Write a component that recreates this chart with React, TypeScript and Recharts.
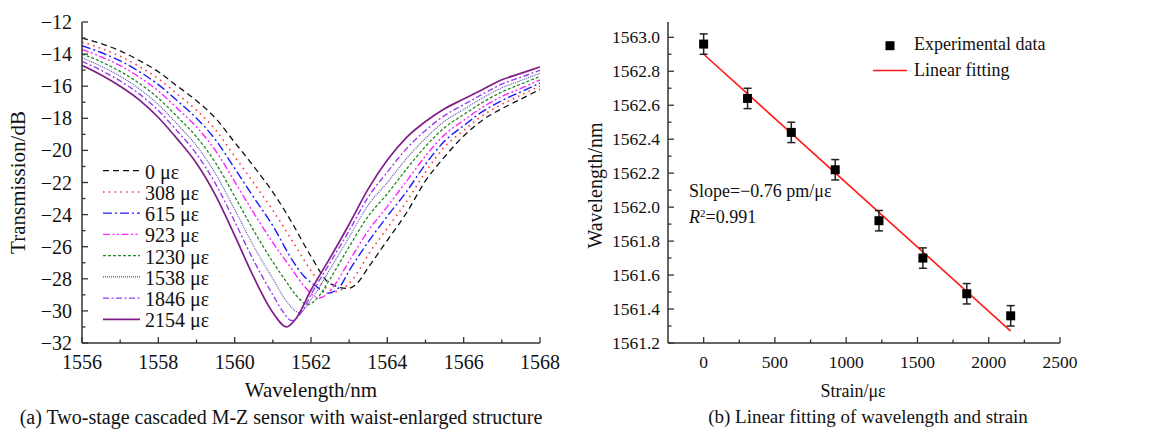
import React from 'react'
import { LineChart, Line, XAxis, YAxis, Legend, ComposedChart, Scatter, ErrorBar } from 'recharts'

const FONT = '"Liberation Serif", "Times New Roman", serif'
const AXIS = '#333'

// (a) transmission spectra, [wavelength nm, transmission dB]
const spec0 = [[1556,-13.0],[1556.5,-13.35],[1557,-13.8],[1557.5,-14.4],[1558,-15.1],[1558.5,-16.0],[1559,-16.9],[1559.5,-18.0],[1560,-19.5],[1560.5,-21.0],[1561,-22.6],[1561.5,-24.5],[1562,-26.6],[1562.5,-28.3],[1562.96,-28.6],[1563.2,-28.3],[1563.5,-27.3],[1564,-25.6],[1564.5,-23.9],[1565,-21.9],[1565.5,-20.4],[1566,-19.1],[1566.5,-18.1],[1567,-17.4],[1567.5,-16.8],[1568,-16.2]]
const spec308 = [[1556,-13.26],[1556.5,-13.64],[1557,-14.13],[1557.5,-14.77],[1558,-15.53],[1558.5,-16.5],[1559,-17.49],[1559.5,-18.72],[1560,-20.37],[1560.5,-22.04],[1561,-23.73],[1561.5,-25.6],[1562,-27.5],[1562.3,-28.4],[1562.64,-28.8],[1562.95,-28.4],[1563.25,-27.5],[1563.5,-26.5],[1564,-24.85],[1564.5,-23.2],[1565,-21.35],[1565.5,-19.78],[1566,-18.76],[1566.5,-17.82],[1567,-17.13],[1567.5,-16.56],[1568,-15.99]]
const spec615 = [[1556,-13.48],[1556.5,-13.9],[1557,-14.42],[1557.5,-15.09],[1558,-15.9],[1558.5,-16.92],[1559,-17.99],[1559.5,-19.34],[1560,-21.12],[1560.5,-22.93],[1561,-24.7],[1561.5,-26.8],[1561.8,-27.8],[1562.1,-28.4],[1562.44,-28.9],[1562.75,-28.5],[1563,-27.5],[1563.5,-25.7],[1564,-24.1],[1564.5,-22.58],[1565,-20.86],[1565.5,-19.42],[1566,-18.46],[1566.5,-17.57],[1567,-16.9],[1567.5,-16.35],[1568,-15.81]]
const spec923 = [[1556,-13.71],[1556.5,-14.17],[1557,-14.72],[1557.5,-15.43],[1558,-16.3],[1558.5,-17.39],[1559,-18.54],[1559.5,-20.02],[1560,-21.94],[1560.5,-23.9],[1561,-25.75],[1561.5,-27.4],[1561.8,-28.4],[1562.22,-29.2],[1562.55,-28.6],[1563,-26.9],[1563.5,-25.0],[1564,-23.5],[1564.5,-21.93],[1565,-20.35],[1565.5,-19.02],[1566,-18.13],[1566.5,-17.3],[1567,-16.64],[1567.5,-16.13],[1568,-15.61]]
const spec1230 = [[1556,-13.99],[1556.5,-14.48],[1557,-15.08],[1557.5,-15.82],[1558,-16.75],[1558.5,-17.91],[1559,-19.16],[1559.5,-20.78],[1560,-22.86],[1560.5,-25.0],[1561,-26.95],[1561.3,-28.0],[1561.6,-29.0],[1561.92,-29.6],[1562.2,-29.1],[1562.5,-28.0],[1563,-26.0],[1563.5,-24.1],[1564,-22.7],[1564.5,-21.17],[1565,-19.75],[1565.5,-18.58],[1566,-17.77],[1566.5,-17.0],[1567,-16.36],[1567.5,-15.87],[1568,-15.39]]
const spec1538 = [[1556,-14.22],[1556.5,-14.75],[1557,-15.38],[1557.5,-16.16],[1558,-17.15],[1558.5,-18.38],[1559,-19.71],[1559.5,-21.46],[1560,-23.68],[1560.5,-25.97],[1561,-28.0],[1561.3,-29.2],[1561.7,-30.1],[1562,-29.3],[1562.5,-27.4],[1563,-25.4],[1563.5,-23.4],[1564,-22.0],[1564.5,-20.52],[1565,-19.24],[1565.5,-18.18],[1566,-17.44],[1566.5,-16.73],[1567,-16.1],[1567.5,-15.65],[1568,-15.19]]
const spec1846 = [[1556,-14.45],[1556.5,-15.01],[1557,-15.67],[1557.5,-16.48],[1558,-17.52],[1558.5,-18.81],[1559,-20.22],[1559.5,-22.08],[1560,-24.43],[1560.5,-26.87],[1561,-29.0],[1561.25,-30.0],[1561.49,-30.6],[1561.8,-29.9],[1562,-29.0],[1562.5,-27.0],[1563,-25.0],[1563.5,-22.9],[1564,-21.35],[1564.5,-19.9],[1565,-18.76],[1565.5,-17.82],[1566,-17.15],[1566.5,-16.49],[1567,-15.87],[1567.5,-15.44],[1568,-15.01]]
const spec2154 = [[1556,-14.7],[1556.5,-15.3],[1557,-16.0],[1557.5,-16.85],[1558,-17.95],[1558.5,-19.3],[1559,-20.8],[1559.5,-22.8],[1560,-25.3],[1560.5,-27.9],[1561,-30.1],[1561.36,-31.0],[1561.6,-30.5],[1562,-28.7],[1562.5,-26.7],[1563,-24.6],[1563.5,-22.4],[1564,-20.6],[1564.5,-19.2],[1565,-18.2],[1565.5,-17.4],[1566,-16.8],[1566.5,-16.2],[1567,-15.6],[1567.5,-15.2],[1568,-14.8]]

const strainNames = ['0 με', '308 με', '615 με', '923 με', '1230 με', '1538 με', '1846 με', '2154 με']
const specXTicks = [1556, 1557, 1558, 1559, 1560, 1561, 1562, 1563, 1564, 1565, 1566, 1567, 1568]
const specYTicks = [-32, -31, -30, -29, -28, -27, -26, -25, -24, -23, -22, -21, -20, -19, -18, -17, -16, -15, -14, -13, -12]

// (b) dip wavelength vs strain
const strain = [0, 308, 615, 923, 1230, 1538, 1846, 2154]
const dipWavelength = [1562.96, 1562.64, 1562.44, 1562.22, 1561.92, 1561.70, 1561.49, 1561.36]
const dipError = [0.06, 0.06, 0.06, 0.06, 0.06, 0.06, 0.06, 0.06]
const fitStrain = [0, 2154]
const fitWavelength = [1562.9, 1561.27]
const fitXTicks = [0, 250, 500, 750, 1000, 1250, 1500, 1750, 2000, 2250, 2500]
const fitYTicks = [1561.2, 1561.3, 1561.4, 1561.5, 1561.6, 1561.7, 1561.8, 1561.9, 1562.0, 1562.1, 1562.2, 1562.3, 1562.4, 1562.5, 1562.6, 1562.7, 1562.8, 1562.9, 1563.0]

const specStyles = [
  { color: '#111111', dash: '6 4', width: 1.3 },
  { color: '#ff3a3a', dash: '1.6 4.2', width: 1.6 },
  { color: '#1a1aff', dash: '9 3 2 3', width: 1.4 },
  { color: '#ff22ff', dash: '7 2.5 2 2.5 2 2.5', width: 1.4 },
  { color: '#1f8a1f', dash: '3 2', width: 1.3 },
  { color: '#4a4aa8', dash: '1 1', width: 1.1 },
  { color: '#9b3cf0', dash: '6 2.5 2 2.5', width: 1.4 },
  { color: '#7f1f86', dash: undefined, width: 1.7 },
]

const specSeries = [spec0, spec308, spec615, spec923, spec1230, spec1538, spec1846, spec2154].map((pts, i) => ({
  name: strainNames[i],
  data: pts.map(([x, y]) => ({ x, y })),
  ...specStyles[i],
}))

const points = strain.map((x, i) => ({ x, y: dipWavelength[i], err: dipError[i] }))
const fitLine = fitStrain.map((x, i) => ({ x, y: fitWavelength[i] }))

const minus = (v: number) => (v < 0 ? `\u2212${Math.abs(v)}` : `${v}`)

// tick renderer that draws inward tick marks (major + minor) and labels only on majors
const makeTick = (side: 'left' | 'bottom', gap: number, fontSize: number, isMajor: (v: number) => boolean, fmt: (v: number) => string) =>
  (props: any) => {
    const { x, y, payload } = props
    const v = payload.value
    const major = isMajor(v)
    const len = major ? 6 : 3.5
    const txt = { fontFamily: FONT, fontSize, fill: '#111' }
    if (side === 'left') {
      const ax = x + gap
      return (
        <g>
          <line x1={ax} x2={ax + len} y1={y} y2={y} stroke={AXIS} strokeWidth={1.3} />
          {major && (
            <text x={x} y={y} dy="0.35em" textAnchor="end" style={txt}>
              {fmt(v)}
            </text>
          )}
        </g>
      )
    }
    const ay = y - gap
    return (
      <g>
        <line x1={x} x2={x} y1={ay} y2={ay - len} stroke={AXIS} strokeWidth={1.3} />
        {major && (
          <text x={x} y={y} dy="0.75em" textAnchor="middle" style={txt}>
            {fmt(v)}
          </text>
        )}
      </g>
    )
  }

const SpecLegend = () => (
  <svg width={150} height={180} style={{ display: 'block' }}>
    {specSeries.map((s, i) => {
      const cy = 20.7 + i * 21.23
      return (
        <g key={s.name}>
          <line x1={3} x2={40} y1={cy} y2={cy} stroke={s.color} strokeWidth={s.width} strokeDasharray={s.dash} />
          <text x={45} y={cy + 8} style={{ fontFamily: FONT, fontSize: 20, fill: '#111' }}>{s.name}</text>
        </g>
      )
    })}
  </svg>
)

const FitLegend = () => (
  <svg width={200} height={60} style={{ display: 'block' }}>
    <rect x={25.5} y={11.2} width={9} height={9} fill="#000" />
    <text x={54} y={19.5} style={{ fontFamily: FONT, fontSize: 18, fill: '#111' }}>Experimental data</text>
    <line x1={13} x2={47} y1={40.5} y2={40.5} stroke="#ff1a1a" strokeWidth={1.6} />
    <text x={54} y={45.5} style={{ fontFamily: FONT, fontSize: 18, fill: '#111' }}>Linear fitting</text>
  </svg>
)

const SquareDot = (props: any) => {
  const { cx, cy } = props
  return <rect x={cx - 4.5} y={cy - 4.5} width={9} height={9} fill="#000" />
}

const labelStyle = (size: number) => ({ fontFamily: FONT, fontSize: size, fill: '#111', textAnchor: 'middle' as const })

export default function App() {
  return (
    <div style={{ position: 'absolute', left: 0, top: 0, width: 1172, height: 432, background: '#fff', fontFamily: FONT }}>
      <div style={{ position: 'absolute', left: 0, top: 0 }}>
        <LineChart width={560} height={432} margin={{ top: 22, right: 20, bottom: 29, left: 0 }}>
          <XAxis
            dataKey="x"
            type="number"
            domain={[1556, 1568]}
            ticks={specXTicks}
            interval={0}
            allowDataOverflow
            height={60}
            tickSize={0}
            tickMargin={11}
            tickLine={false}
            axisLine={{ stroke: AXIS, strokeWidth: 1.5 }}
            tick={makeTick('bottom', 11, 20, (v) => v % 2 === 0, (v) => `${v}`)}
            label={{ value: 'Wavelength/nm', position: 'insideBottom', offset: 6, style: labelStyle(21) }}
          />
          <XAxis xAxisId="top" orientation="top" type="number" domain={[1556, 1568]} height={0} tick={false} tickLine={false} axisLine={{ stroke: AXIS, strokeWidth: 1.5 }} />
          <YAxis
            type="number"
            domain={[-32, -12]}
            ticks={specYTicks}
            interval={0}
            allowDataOverflow
            width={82}
            tickSize={0}
            tickMargin={10}
            tickLine={false}
            axisLine={{ stroke: AXIS, strokeWidth: 1.5 }}
            tick={makeTick('left', 10, 20, (v) => v % 2 === 0, minus)}
            label={{ value: 'Transmission/dB', angle: -90, position: 'insideLeft', offset: 18, style: labelStyle(21) }}
          />
          <YAxis yAxisId="right" orientation="right" type="number" domain={[-32, -12]} width={0} tick={false} tickLine={false} axisLine={{ stroke: AXIS, strokeWidth: 1.5 }} />
          {specSeries.map((s) => (
            <Line
              key={s.name}
              data={s.data}
              dataKey="y"
              name={s.name}
              type="monotone"
              stroke={s.color}
              strokeWidth={s.width}
              strokeDasharray={s.dash}
              dot={false}
              isAnimationActive={false}
            />
          ))}
          <Legend layout="vertical" align="center" verticalAlign="middle" wrapperStyle={{ left: 100, top: 150, width: 150 }} content={() => <SpecLegend />} />
        </LineChart>
      </div>

      <div style={{ position: 'absolute', left: 560, top: 0 }}>
        <ComposedChart width={612} height={432} margin={{ top: 22, right: 112, bottom: 29, left: 0 }}>
          <XAxis
            dataKey="x"
            type="number"
            domain={[-250, 2500]}
            ticks={fitXTicks}
            interval={0}
            allowDataOverflow
            height={60}
            tickSize={0}
            tickMargin={12}
            tickLine={false}
            axisLine={{ stroke: AXIS, strokeWidth: 1.5 }}
            tick={makeTick('bottom', 12, 17.5, (v) => v % 500 === 0, (v) => `${v}`)}
            label={{ value: 'Strain/με', position: 'insideBottom', offset: 6, dx: -11, style: labelStyle(18) }}
          />
          <XAxis xAxisId="top" orientation="top" type="number" domain={[-250, 2500]} height={0} tick={false} tickLine={false} axisLine={{ stroke: AXIS, strokeWidth: 1.5 }} />
          <YAxis
            type="number"
            domain={[1561.2, 1563.09]}
            ticks={fitYTicks}
            interval={0}
            allowDataOverflow
            width={108}
            tickSize={0}
            tickMargin={8}
            tickLine={false}
            axisLine={{ stroke: AXIS, strokeWidth: 1.5 }}
            tick={makeTick('left', 8, 17.5, (v) => Math.round(v * 10) % 2 === 0, (v) => v.toFixed(1))}
            label={{ value: 'Wavelength/nm', angle: -90, position: 'insideLeft', offset: 35, dy: 3, style: labelStyle(20) }}
          />
          <YAxis yAxisId="right" orientation="right" type="number" domain={[1561.2, 1563.09]} width={0} tick={false} tickLine={false} axisLine={{ stroke: AXIS, strokeWidth: 1.5 }} />
          <Line data={fitLine} dataKey="y" type="linear" stroke="#ff1a1a" strokeWidth={1.6} dot={false} isAnimationActive={false} />
          <Scatter data={points} dataKey="y" shape={SquareDot} isAnimationActive={false}>
            <ErrorBar dataKey="err" direction="y" width={4} stroke="#222" strokeWidth={1.5} />
          </Scatter>
          <Legend layout="vertical" align="center" verticalAlign="middle" wrapperStyle={{ left: 300, top: 30, width: 200 }} content={() => <FitLegend />} />
        </ComposedChart>
      </div>

      <div style={{ position: 'absolute', left: 689, top: 181, fontSize: 18, lineHeight: '20px', color: '#111', whiteSpace: 'nowrap' }}>
        Slope=−0.76 pm/με
      </div>
      <div style={{ position: 'absolute', left: 689, top: 203, fontSize: 18, lineHeight: '20px', color: '#111', whiteSpace: 'nowrap' }}>
        <i>R</i><sup style={{ fontSize: 11, verticalAlign: '6px' }}>2</sup>=0.991
      </div>

      <div style={{ position: 'absolute', left: 0, top: 407, width: 562, textAlign: 'center', fontSize: 20, lineHeight: '20px', color: '#111' }}>
        (a) Two-stage cascaded M-Z sensor with waist-enlarged structure
      </div>
      <div style={{ position: 'absolute', left: 568, top: 407, width: 600, textAlign: 'center', fontSize: 19, lineHeight: '20px', color: '#111' }}>
        (b) Linear fitting of wavelength and strain
      </div>
    </div>
  )
}
